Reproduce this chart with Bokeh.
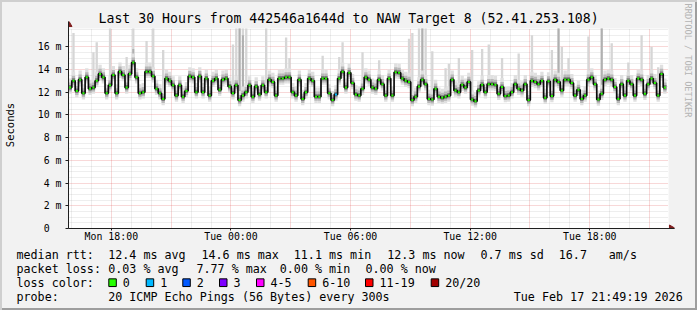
import numpy as np
from bokeh.plotting import figure
from bokeh.layouts import column, row
from bokeh.models import (ColumnDataSource, FixedTicker, Range1d, InlineStyleSheet, BoxAnnotation)
from bokeh.core.properties import value
from bokeh.embed import file_html
from bokeh.resources import INLINE

# ---------------- data ----------------
chart_title = "Last 30 Hours from 442546a1644d to NAW Target 8 (52.41.253.108)"
start_hour = 15 + 51 / 60      # hours since Mon 00:00 (graph start)
end_hour = 45 + 57 / 60        # graph end (Tue 21:57)
step_minutes = 10
y_max_ms = 17.6

median_ms = [
    12.4, 13.0, 12.1, 13.1, 11.9, 13.3, 12.3, 12.4, 13.0, 13.6, 13.3, 11.9, 12.6, 13.5, 11.9,
    13.8, 13.5, 12.4, 13.6, 14.6, 13.3, 11.9, 12.0, 13.8, 13.8, 13.4, 12.3, 11.9, 11.4, 13.2,
    13.0, 12.6, 11.7, 12.6, 11.6, 12.1, 13.4, 13.3, 12.0, 13.4, 12.0, 13.2, 11.7, 13.0, 13.2,
    12.2, 13.1, 13.2, 12.5, 11.9, 12.6, 11.3, 11.7, 12.0, 12.6, 11.6, 12.5, 11.8, 12.6, 12.0,
    13.1, 12.9, 11.7, 13.2, 13.2, 13.3, 13.3, 12.0, 11.7, 13.1, 11.4, 12.0, 13.2, 13.0, 11.6,
    11.6, 13.2, 13.2, 11.9, 11.3, 11.8, 13.2, 13.8, 12.4, 13.7, 12.8, 11.8, 11.7, 12.3, 13.3,
    13.1, 12.4, 12.3, 13.1, 12.7, 11.7, 13.2, 11.7, 13.75, 13.7, 13.2, 13.0, 12.9, 11.3, 11.6,
    12.5, 13.1, 12.7, 11.4, 11.35, 12.3, 11.6, 11.5, 11.6, 11.7, 13.1, 12.15, 12.0, 12.65, 12.4,
    12.9, 11.35, 11.2, 12.15, 12.65, 12.0, 12.7, 12.7, 12.65, 11.85, 12.45, 11.65, 11.7, 12.0, 12.7,
    12.3, 12.15, 12.7, 11.3, 13.0, 12.9, 12.7, 13.0, 11.5, 12.95, 11.65, 13.1, 12.9, 12.15, 13.1,
    13.1, 12.8, 11.7, 12.2, 11.4, 11.7, 13.1, 13.3, 12.7, 11.35, 11.85, 13.1, 13.2, 13.1, 12.45,
    11.4, 12.7, 11.7, 13.0, 12.7, 11.7, 13.2, 13.1, 11.85, 12.7, 13.2, 12.8, 11.7, 13.6, 12.4,
]

# light smoke: the highest pings of a step
spike_index = [1, 7, 8, 12, 17, 19, 23, 25, 28, 49, 50, 51, 52, 53, 59, 65, 66, 76, 81, 82,
               88, 93, 102, 103, 105, 106, 107, 109, 113, 114, 117, 121, 124, 126, 130, 135,
               139, 145, 147, 148, 150, 156, 160, 163, 168, 172, 175, 177]
spike_top_ms = [17.2, 15.5, 16.4, 17.6, 15.1, 17.6, 16.5, 17.6, 15.7, 16.2, 17.6, 17.6, 17.6,
                17.6, 17.6, 16.8, 15.0, 15.2, 15.1, 16.4, 15.5, 14.8, 16.7, 17.2, 17.6, 17.6,
                17.6, 15.6, 14.1, 14.5, 15.0, 15.7, 15.8, 16.2, 15.0, 15.4, 17.0, 15.7, 17.6,
                16.0, 15.0, 16.9, 17.6, 16.3, 14.6, 17.0, 16.0, 14.2]
# darker smoke: several pings of a step far above the median
dense_index = [19, 51, 52, 106, 147, 160]
dense_top_ms = [15.8, 17.6, 17.0, 17.6, 17.6, 17.6]

loss_index = [80]
loss_pings = [1]

y_tick_values = [0, 2, 4, 6, 8, 10, 12, 14, 16]
y_tick_labels = ["0\u00a0\u00a0", "2 m", "4 m", "6 m", "8 m", "10 m", "12 m", "14 m", "16 m"]
x_tick_hours = [18, 24, 30, 36, 42]
x_tick_labels = ["Mon 18:00", "Tue 00:00", "Tue 06:00", "Tue 12:00", "Tue 18:00"]

loss_names = ["0", "1", "2", "3", "4-5", "6-10", "11-19", "20/20"]
loss_colors = ["#26ff00", "#00b8ff", "#0059ff", "#7e00ff", "#ff00ff", "#ff5500", "#ff0000", "#a10000"]

stats_rtt = ["12.4 ms avg", "14.6 ms max", "11.1 ms min", "12.3 ms now", "0.7 ms sd", "16.7", "am/s"]
stats_loss = ["0.03 % avg", "7.77 % max", "0.00 % min", "0.00 % now"]
probe_text = "20 ICMP Echo Pings (56 Bytes) every 300s"
stamp_text = "Tue Feb 17 21:49:19 2026"
credit_text = "RRDTOOL / TOBI OETIKER"

# ---------------- layout constants ----------------
W, H = 697, 310
MAIN_W, MAIN_H = 683, 246
FL, FR, FT, FB = 67, 668, 28, 228          # plot area edges in canvas px
MONO = "DejaVu Sans Mono"
px_per_h = (FR - FL) / (end_hour - start_hour)
px_per_ms = (FB - FT) / y_max_ms

n = len(median_ms)
step_h = step_minutes / 60
t = start_hour + (np.arange(n) + 0.5) * step_h
med = np.array(median_ms)

# frame extended a few px up / right so the axis arrows fit
x_end = end_hour + 6 / px_per_h
y_end = y_max_ms + 7 / px_per_ms
p = figure(width=MAIN_W, height=MAIN_H, output_backend="svg", toolbar_location=None,
           x_range=Range1d(start_hour, x_end), y_range=Range1d(0, y_end),
           min_border_left=FL, min_border_right=MAIN_W - FR - 6, min_border_top=FT - 7,
           min_border_bottom=MAIN_H - FB, background_fill_color=None,
           border_fill_color=None, outline_line_color=None)
p.add_layout(BoxAnnotation(left=start_hour, right=end_hour, bottom=0, top=y_max_ms,
                           fill_color="#ffffff", fill_alpha=1, line_color=None, level="image"))

# title
p.title.text = chart_title
p.title.text_font = MONO
p.title.text_font_size = "13.2px"
p.title.text_font_style = "normal"
p.title.text_color = "#000000"
p.title.align = "left"
p.title.offset = 30
p.title.standoff = -8

# grids
x_major = list(np.arange(18, 46, 3))
x_minor = [h for h in range(16, 46) if h % 3 != 0]
y_minor = [v for v in np.arange(0.5, 17.6, 0.5) if v % 2 != 0]
p.xgrid.ticker = FixedTicker(ticks=x_major, minor_ticks=x_minor)
p.ygrid.ticker = FixedTicker(ticks=y_tick_values, minor_ticks=y_minor)
try:
    p.xgrid.cross_bounds = (0, y_max_ms)
    p.ygrid.cross_bounds = (start_hour, end_hour)
except Exception:
    pass
for g in (p.xgrid, p.ygrid):
    g.grid_line_color = "#de4f4f"
    g.grid_line_alpha = 0.45
    g.grid_line_dash = "1 1"
    g.minor_grid_line_color = "#8f8f8f"
    g.minor_grid_line_alpha = 0.3
    g.minor_grid_line_dash = "1 1"

# axes
p.xaxis.ticker = FixedTicker(ticks=x_tick_hours)
p.xaxis.major_label_overrides = dict(zip(x_tick_hours, x_tick_labels))
p.yaxis.ticker = FixedTicker(ticks=y_tick_values)
p.yaxis.major_label_overrides = dict(zip(y_tick_values, y_tick_labels))
for ax in (p.xaxis, p.yaxis):
    ax.axis_line_color = "#1f1f1f"
    ax.major_tick_line_color = "#1f1f1f"
    ax.major_tick_in = 0
    ax.minor_tick_line_color = None
    ax.major_label_text_font = MONO
    ax.major_label_text_font_size = "9.9px"
    ax.major_label_text_color = "#000000"
p.xaxis.major_tick_out = 2
p.xaxis.major_label_standoff = 0
p.yaxis.major_tick_out = 3
p.yaxis.major_label_standoff = 4
p.yaxis.axis_label = "Seconds"
p.yaxis.axis_label_text_font = MONO
p.yaxis.axis_label_text_font_size = "10.5px"
p.yaxis.axis_label_text_font_style = "normal"
p.yaxis.axis_label_text_color = "#000000"
p.yaxis.axis_label_standoff = 19

# ---------------- smoke ----------------
sp = ColumnDataSource(dict(x=t[spike_index], bottom=med[spike_index], top=spike_top_ms))
p.vbar(x="x", bottom="bottom", top="top", width=step_h * 0.7, source=sp,
       fill_color="#d6d6d6", line_color=None)
dn = ColumnDataSource(dict(x=t[dense_index], bottom=med[dense_index], top=dense_top_ms))
p.vbar(x="x", bottom="bottom", top="top", width=step_h * 0.6, source=dn,
       fill_color="#b0b0b0", line_color=None)

for lo, hi, col in ((0.55, 0.8, "#e0e0e0"), (0.35, 0.45, "#b8b8b8"), (0.18, 0.22, "#7a7a7a")):
    p.vbar(x=t, bottom=med - lo, top=med + hi, width=step_h, fill_color=col, line_color=None)

# median line and loss coloured median markers
p.step(x=t, y=med, mode="center", line_color="#0c0c0c", line_width=1.7)
colors = [loss_colors[0]] * n
for i, lp in zip(loss_index, loss_pings):
    colors[i] = loss_colors[lp]
p.scatter(x=t, y=med, marker="square", size=2, fill_color=colors, line_color=None)

# axis arrow heads (rrdtool style)
arrow_col = "#801f1f"
p.scatter(x=[start_hour], y=[y_max_ms + 4 / px_per_ms], marker="triangle", size=7,
          fill_color=arrow_col, line_color=arrow_col)
p.scatter(x=[end_hour + 3 / px_per_h], y=[0], marker="triangle", angle=-np.pi / 2, size=7,
          fill_color=arrow_col, line_color=arrow_col)

# ---------------- right credit strip ----------------
cr = figure(width=W - MAIN_W, height=MAIN_H, output_backend="svg", toolbar_location=None,
            x_range=Range1d(MAIN_W, W), y_range=Range1d(MAIN_H, 0),
            x_axis_location=None, y_axis_location=None, min_border=0,
            background_fill_color=None, border_fill_color=None, outline_line_color=None)
cr.title = None
cr.grid.visible = False
cr.text(x=[687], y=[60], text=[credit_text], angle=-np.pi / 2, text_font=value(MONO),
        text_font_size="8.6px", text_color="#b4b4b4", text_align="center",
        text_baseline="middle")

# ---------------- legend strip ----------------
lg = figure(width=W, height=H - MAIN_H, output_backend="svg", toolbar_location=None,
            x_range=Range1d(0, W), y_range=Range1d(H, MAIN_H),
            x_axis_location=None, y_axis_location=None, min_border=0,
            background_fill_color=None, border_fill_color=None, outline_line_color=None)
lg.title = None
lg.grid.visible = False
row_y = [254.3, 268.3, 282.3, 296.3]
box_x = [108.3, 145.7, 182.3, 219, 256, 307.7, 365, 430.7]
txt, tx, ty = [], [], []
def put(s, x, y):
    txt.append(s); tx.append(x); ty.append(y)
put("median rtt:", 16, row_y[0])
for s, x in zip(stats_rtt, [107.7, 201, 293.3, 386.7, 480, 558.3, 608.3]):
    put(s, x, row_y[0])
put("packet loss:", 16, row_y[1])
for s, x in zip(stats_loss, [107.7, 196, 279.3, 365]):
    put(s, x, row_y[1])
put("loss color:", 16, row_y[2])
for name, bx in zip(loss_names, box_x):
    put(name, bx + 14, row_y[2])
put("probe:", 16, row_y[3])
put(probe_text, 107.7, row_y[3])
put(stamp_text, 513.3, row_y[3])
lg.text(x=tx, y=ty, text=txt, text_font=value(MONO), text_font_size="11.7px",
        text_color="#000000", text_align="left", text_baseline="middle")
lg.rect(x=[b + 3.75 for b in box_x], y=[282.2] * len(box_x), width=7.5, height=7.7,
        fill_color=loss_colors, line_color="#000000", line_width=1)

top = row(column(p), cr)
layout = column(top, lg)
layout.stylesheets = [InlineStyleSheet(css=":host { background: #f2f2f2; "
                                           "box-shadow: inset 2px 2px 0 #cfcfcf, inset -2px -2px 0 #9e9e9e; }")]

open("out.html", "w").write(file_html(layout, INLINE))
